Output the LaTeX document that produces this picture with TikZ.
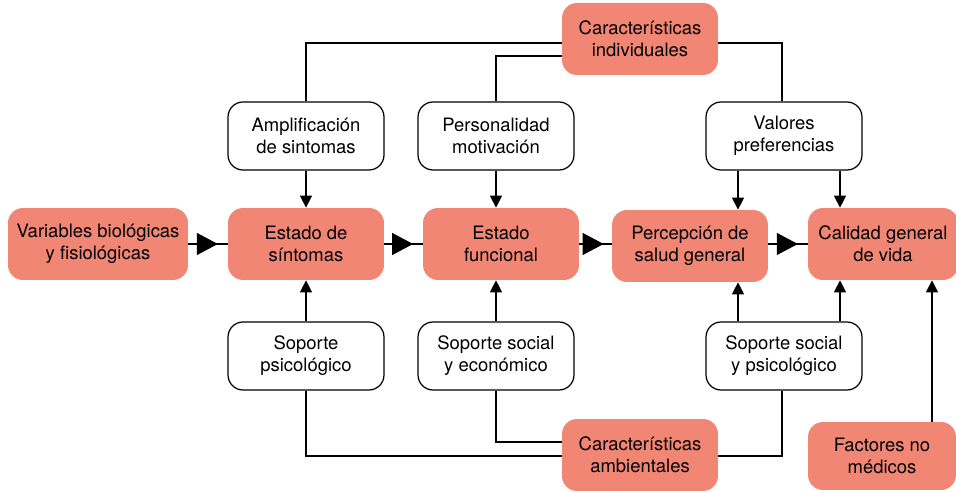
\documentclass[tikz,border=0pt]{standalone}
\usepackage{fontspec}
\setmainfont{TeX Gyre Heros}
\usetikzlibrary{arrows.meta, positioning, calc, decorations.markings}
\definecolor{salmon}{RGB}{240,134,115}

\begin{document}
\begin{tikzpicture}[x=0.02cm, y=-0.02cm,
    font=\fontsize{10.5}{12.5}\selectfont,
    factor/.style={rectangle, rounded corners=0.3cm, fill=salmon, minimum width=3.12cm,
                   minimum height=1.44cm, align=center, inner sep=0pt},
    modif/.style={rectangle, rounded corners=0.3cm, draw, line width=0.7pt, fill=white,
                  minimum width=3.12cm, minimum height=1.36cm, align=center},
    link/.style={line width=0.7pt},
    up/.style={link, -{Triangle[length=0.24cm, width=0.24cm]}},
    flow/.style={link, postaction={decorate}, decoration={markings,
                 mark=at position 0.75 with {\arrow{Triangle[length=0.42cm, width=0.44cm]}}}}]
    \useasboundingbox (0,0) rectangle (956,492);

    % Factors
    \node[factor] (ci) at (640,39) {Características\\individuales};
    \node[factor, minimum width=3.6cm] (bio) at (98,244) {Variables biológicas\\y fisiológicas};
    \node[factor] (sint) at (306,244) {Estado de\\síntomas};
    \node[factor] (func) at (501,244) {Estado\\funcional};
    \node[factor] (perc) at (690,246) {Percepción de\\salud general};
    \node[factor, minimum width=3cm] (vida) at (883,244) {Calidad general\\de vida};
    \node[factor] (amb) at (640,455) {Características\\ambientales};
    \node[factor, minimum width=2.96cm, minimum height=1.36cm] (nomed) at (882,456) {Factores no\\médicos};

    % Modifiers
    \node[modif] (amp) at (306,136) {Amplificación\\de sintomas};
    \node[modif] (pers) at (496,136) {Personalidad\\motivación};
    \node[modif] (val) at (784,136) {Valores\\preferencias};
    \node[modif] (psic) at (306,356) {Soporte\\psicológico};
    \node[modif] (socec) at (496,356) {Soporte social\\y económico};
    \node[modif] (socps) at (784,356) {Soporte social\\y psicológico};

    % Individual characteristics
    \draw[link] ($(ci.west)+(0,4)$) -| (amp.north);
    \draw[link] ($(ci.west)+(0,17)$) -| (pers.north);
    \draw[link] ($(ci.east)+(0,4)$) -| ($(val.north)+(-2,0)$);

    % Environmental characteristics
    \draw[link] (psic.south) |- ($(amb.west)+(0,1)$);
    \draw[link] (socec.south) |- ($(amb.west)+(0,-13)$);
    \draw[link] ($(socps.south)+(-2,0)$) |- ($(amb.east)+(0,1)$);

    % Main flow
    \draw[flow] (bio) -- (sint);
    \draw[flow] (sint.east) -- (sint.east -| func.west);
    \draw[flow] (func.east) -- (func.east -| perc.west);
    \draw[flow] (vida.west -| perc.east) -- (vida.west);

    % Modifying arrows
    \draw[up] (amp) -- (sint);
    \draw[up] (pers.south) -- (pers.south |- func.north);
    \draw[up] ($(val.south)+(-46,0)$) -- ($(perc.north)+(48,0)$);
    \draw[up] ($(val.south)+(56,0)$) -- ($(vida.north)+(-43,0)$);
    \draw[up] (psic) -- (sint);
    \draw[up] (socec.north) -- (socec.north |- func.south);
    \draw[up] ($(socps.north)+(-46,0)$) -- ($(perc.south)+(48,0)$);
    \draw[up] ($(socps.north)+(56,0)$) -- ($(vida.south)+(-43,0)$);
    \draw[up] ($(nomed.north)+(50,0)$) -- ($(vida.south)+(49,0)$);
\end{tikzpicture}
\end{document}
